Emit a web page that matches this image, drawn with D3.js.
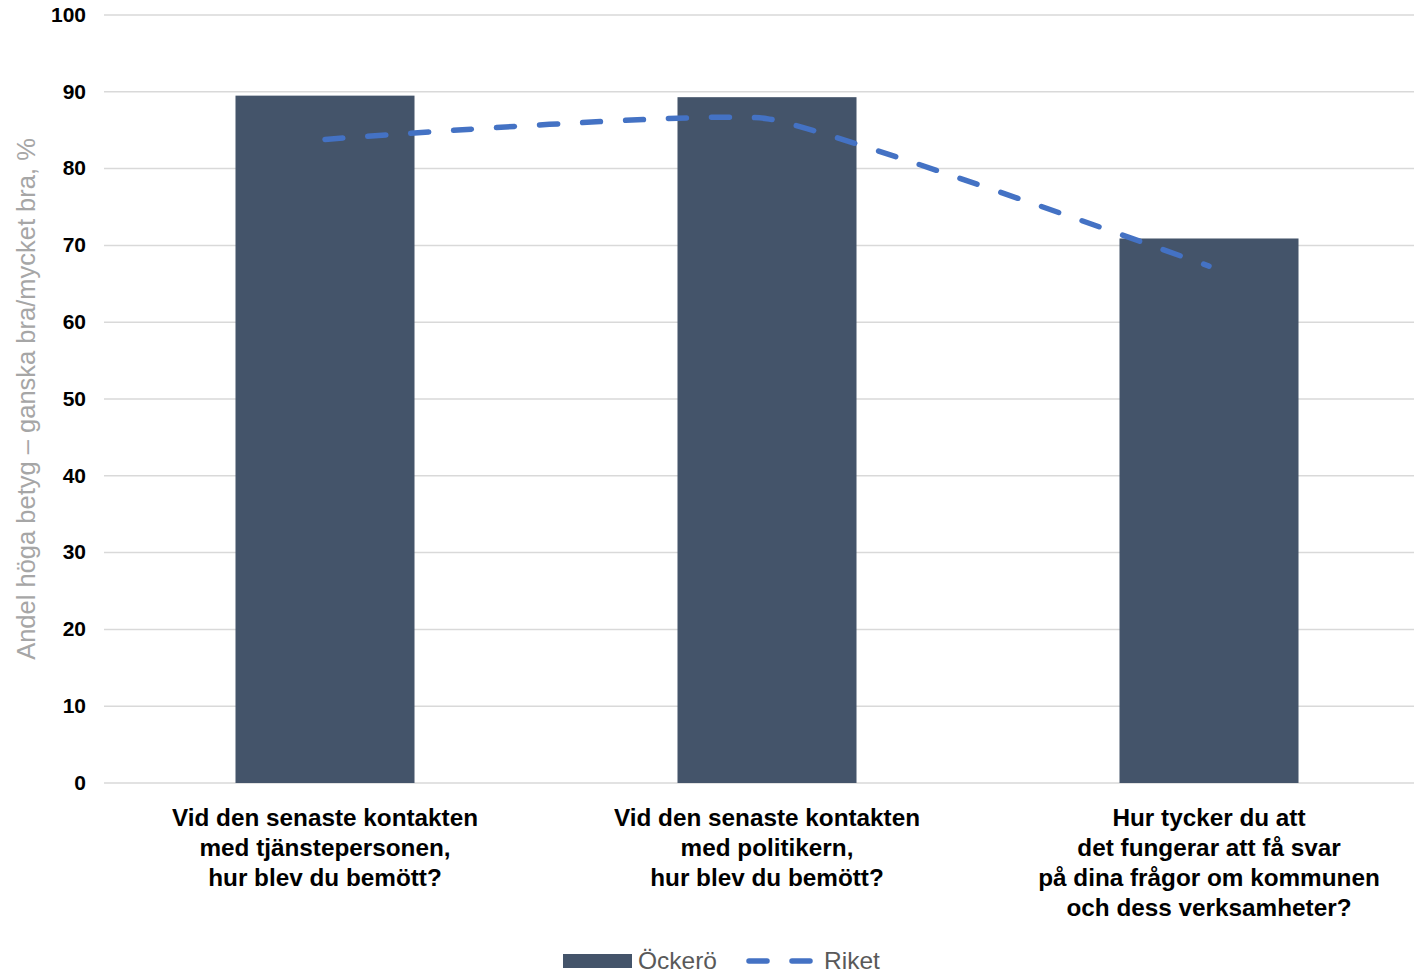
<!DOCTYPE html>
<html><head><meta charset="utf-8">
<script src="https://cdn.jsdelivr.net/npm/d3@7"></script>
<style>body{margin:0;background:#fff;} svg{display:block;}</style>
</head><body>
<svg id="c" width="1414" height="973"></svg>
<script>
const categories = [
  ["Vid den senaste kontakten","med tjänstepersonen,","hur blev du bemött?"],
  ["Vid den senaste kontakten","med politikern,","hur blev du bemött?"],
  ["Hur tycker du att","det fungerar att få svar","på dina frågor om kommunen","och dess verksamheter?"]
];
const ockero = [89.5, 89.3, 70.9];
const riket = [83.8, 86.5, 67.3];
const yTicks = [0,10,20,30,40,50,60,70,80,90,100];
const seriesNames = ["Öckerö","Riket"];
const yTitle = "Andel höga betyg – ganska bra/mycket bra, %";

const svg = d3.select("#c");
const font = "'Liberation Sans', Arial, sans-serif";
const x = d3.scaleBand().domain(d3.range(categories.length)).range([104,1430]).padding(0);
const y = d3.scaleLinear().domain([0,100]).range([783,15]);
const barW = x.bandwidth()*0.405;

// grid
svg.append("g").selectAll("line").data(yTicks).join("line")
  .attr("x1",104).attr("x2",1414)
  .attr("y1",d=>y(d)).attr("y2",d=>y(d))
  .attr("stroke","#d9d9d9").attr("stroke-width",1.5);

// y axis labels
const yAxis = d3.axisLeft(y).tickValues(yTicks).tickSize(0).tickPadding(0);
const ya = svg.append("g").attr("transform","translate(86,0)").call(yAxis);
ya.select(".domain").remove();
ya.selectAll("text").attr("font-family",font).attr("font-size",21).attr("font-weight","bold")
  .attr("fill","#000").attr("dy","0.3em");

// y title
svg.append("text").attr("transform","translate(35,399) rotate(-90)")
  .attr("text-anchor","middle").attr("font-family",font).attr("font-size",25.5)
  .attr("fill","#A6A6A6").text(yTitle);

// bars
svg.append("g").selectAll("rect").data(ockero).join("rect")
  .attr("x",(d,i)=>x(i)+x.bandwidth()/2-barW/2).attr("width",barW)
  .attr("y",d=>y(d)).attr("height",d=>y(0)-y(d))
  .attr("fill","#44546A");

// line
const line = d3.line().x((d,i)=>x(i)+x.bandwidth()/2).y(d=>y(d)).curve(d3.curveCardinal.tension(0.6));
svg.append("path").datum(riket).attr("d",line).attr("fill","none")
  .attr("stroke","#4472C4").attr("stroke-width",5.5).attr("stroke-linecap","round")
  .attr("stroke-dasharray","18,25");

// x labels
const xl = svg.append("g");
categories.forEach((lines,i)=>{
  const t = xl.append("text").attr("text-anchor","middle").attr("font-family",font)
    .attr("font-size",24.3).attr("font-weight","bold").attr("fill","#000");
  lines.forEach((l,j)=>t.append("tspan").attr("x",x(i)+x.bandwidth()/2).attr("y",826+j*30).text(l));
});

// legend
const lg = svg.append("g");
lg.append("rect").attr("x",563).attr("y",954).attr("width",69).attr("height",14).attr("fill","#44546A");
lg.append("text").attr("x",638).attr("y",969).attr("font-family",font).attr("font-size",24.5)
  .attr("fill","#595959").text(seriesNames[0]);
lg.append("line").attr("x1",749).attr("x2",810).attr("y1",961).attr("y2",961)
  .attr("stroke","#4472C4").attr("stroke-width",5.5).attr("stroke-linecap","round")
  .attr("stroke-dasharray","18,25");
lg.append("text").attr("x",824).attr("y",969).attr("font-family",font).attr("font-size",24.5)
  .attr("fill","#595959").text(seriesNames[1]);
</script>
</body></html>
